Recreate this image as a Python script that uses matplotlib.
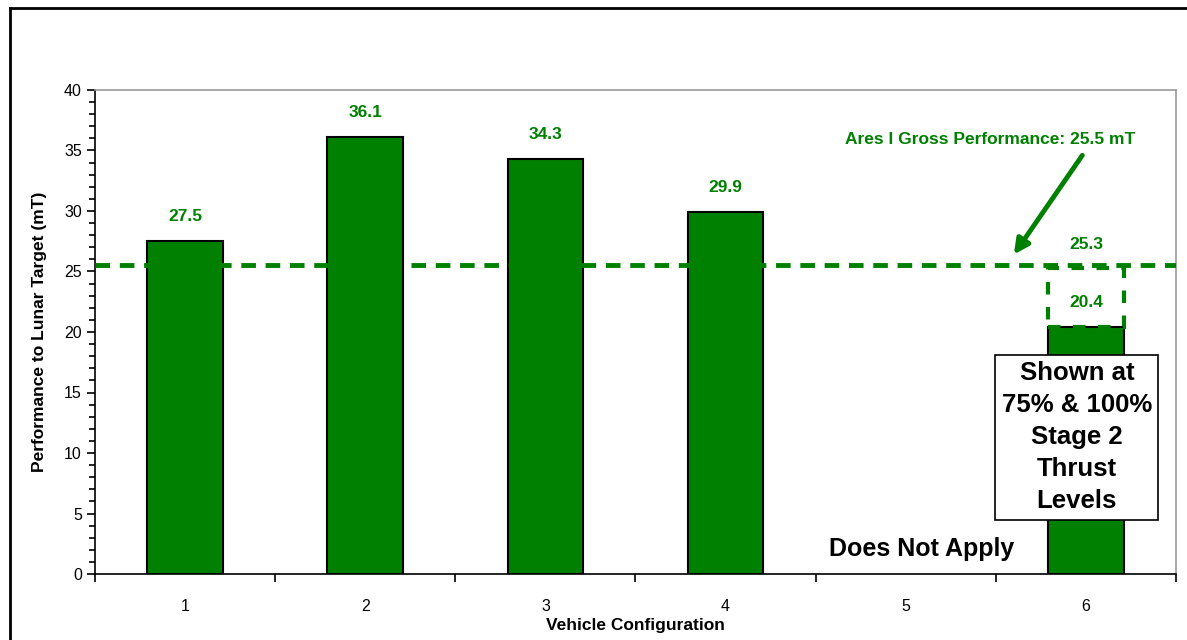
import matplotlib
matplotlib.use("Agg")
import matplotlib.pyplot as plt
from matplotlib.patches import Rectangle
from matplotlib.ticker import MultipleLocator, FixedLocator

plt.rcParams['font.family'] = ['Liberation Sans', 'DejaVu Sans']

configs = [1, 2, 3, 4, 5, 6]
values = [27.5, 36.1, 34.3, 29.9, None, 20.4]
config6_full = 25.3
ares_perf = 25.5
green = '#008000'

fig = plt.figure(figsize=(11.87, 6.4), dpi=100)
ax = fig.add_axes([95/1187, 66/640, (1176-95)/1187, (574-90)/640])

bw = 0.42
for c, v in zip(configs, values):
    if v is None:
        continue
    ax.bar(c, v, width=bw, color=green, edgecolor='black', linewidth=1.5, zorder=3)
    ax.text(c, v + 1.4, f"{v:.1f}", ha='center', va='bottom', color=green,
            fontsize=12.5, fontweight='bold', zorder=5)

# dashed outline for 100% thrust level of config 6
ax.add_patch(Rectangle((6 - bw/2, values[5]), bw, config6_full - values[5],
                       fill=False, edgecolor=green, linestyle=(0, (3, 3)),
                       linewidth=3, zorder=4))
ax.text(6, config6_full + 1.3, f"{config6_full:.1f}", ha='center', va='bottom',
        color=green, fontsize=12.5, fontweight='bold', zorder=5)

# Ares I reference line
ax.axhline(ares_perf, color=green, linestyle=(0, (3, 2)), linewidth=3.5, zorder=4)
ax.text(5.47, 35.95, "Ares I Gross Performance: 25.5 mT", ha='center', va='center',
        color=green, fontsize=12.5, fontweight='bold')
ax.annotate("", xy=(5.6, 26.4), xytext=(5.98, 34.6),
            arrowprops=dict(arrowstyle='-|>', color=green, lw=3.5,
                            mutation_scale=22, shrinkA=0, shrinkB=0))

ax.text(5.95, 11.3, "Shown at\n75% & 100%\nStage 2\nThrust\nLevels", ha='center', va='center',
        fontsize=18.5, fontweight='bold', color='black', linespacing=1.42, zorder=6,
        bbox=dict(boxstyle='square,pad=0.25', facecolor='white', edgecolor='black', linewidth=1.2))
ax.text(5.09, 2.07, "Does Not Apply", ha='center', va='center', fontsize=18,
        fontweight='bold', color='black', zorder=6)

ax.set_xlim(0.5, 6.5)
ax.set_ylim(0, 40)
ax.yaxis.set_major_locator(MultipleLocator(5))
ax.yaxis.set_minor_locator(MultipleLocator(1))
ax.xaxis.set_major_locator(FixedLocator([0.5, 1.5, 2.5, 3.5, 4.5, 5.5, 6.5]))
ax.xaxis.set_minor_locator(FixedLocator(configs))
ax.set_xticklabels([])
ax.set_xticklabels([str(c) for c in configs], minor=True)
ax.tick_params(axis='x', which='major', direction='out', length=6, width=1.2)
ax.tick_params(axis='x', which='minor', length=0, pad=18, labelsize=11.5)
ax.tick_params(axis='y', which='major', direction='out', length=6, width=1.2, labelsize=11.5)
ax.tick_params(axis='y', which='minor', direction='out', length=4, width=1.2)

for s in ['left', 'bottom']:
    ax.spines[s].set_color('black')
    ax.spines[s].set_linewidth(1.2)
for s in ['top', 'right']:
    ax.spines[s].set_color('#999999')
    ax.spines[s].set_linewidth(1.2)

ax.set_ylabel("Performance to Lunar Target (mT)", fontsize=12.5, fontweight='bold', labelpad=12)
ax.set_xlabel("Vehicle Configuration", fontsize=12.5, fontweight='bold', labelpad=3)

# outer frame
fig.add_artist(plt.Line2D([10/1187, 10/1187], [0, 632/640], color='black', lw=2,
                          transform=fig.transFigure))
fig.add_artist(plt.Line2D([10/1187, 1], [632/640, 632/640], color='black', lw=2,
                          transform=fig.transFigure))

fig.savefig("out.png", dpi=100)
